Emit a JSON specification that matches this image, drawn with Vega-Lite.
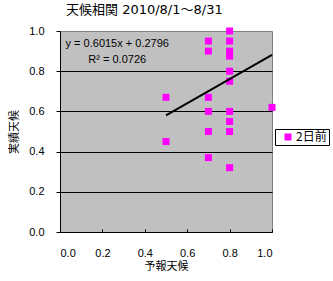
{
  "$schema": "https://vega.github.io/schema/vega-lite/v6.json",
  "width": 212,
  "height": 201,
  "autosize": {"type": "none"},
  "padding": {"left": 60, "top": 31, "right": 61, "bottom": 49},
  "background": "white",
  "config": {
    "view": {"fill": "#C0C0C0", "stroke": "#808080", "strokeWidth": 1},
    "font": "Liberation Sans"
  },
  "title": {
    "text": "天候相関 2010/8/1～8/31",
    "anchor": "start",
    "frame": "group",
    "dx": 6,
    "offset": 8,
    "fontSize": 13,
    "fontWeight": "normal",
    "font": "DejaVu Sans, Noto Sans CJK JP",
    "color": "black"
  },
  "datasets": {
    "points": [
      {"forecast": 0.5, "actual": 0.67, "series": "2日前"},
      {"forecast": 0.5, "actual": 0.45, "series": "2日前"},
      {"forecast": 0.7, "actual": 0.95, "series": "2日前"},
      {"forecast": 0.7, "actual": 0.9, "series": "2日前"},
      {"forecast": 0.7, "actual": 0.67, "series": "2日前"},
      {"forecast": 0.7, "actual": 0.6, "series": "2日前"},
      {"forecast": 0.7, "actual": 0.5, "series": "2日前"},
      {"forecast": 0.7, "actual": 0.37, "series": "2日前"},
      {"forecast": 0.8, "actual": 1.0, "series": "2日前"},
      {"forecast": 0.8, "actual": 0.95, "series": "2日前"},
      {"forecast": 0.8, "actual": 0.9, "series": "2日前"},
      {"forecast": 0.8, "actual": 0.875, "series": "2日前"},
      {"forecast": 0.8, "actual": 0.8, "series": "2日前"},
      {"forecast": 0.8, "actual": 0.75, "series": "2日前"},
      {"forecast": 0.8, "actual": 0.6, "series": "2日前"},
      {"forecast": 0.8, "actual": 0.55, "series": "2日前"},
      {"forecast": 0.8, "actual": 0.5, "series": "2日前"},
      {"forecast": 0.8, "actual": 0.32, "series": "2日前"},
      {"forecast": 1.0, "actual": 0.62, "series": "2日前"}
    ],
    "trend": [
      {"forecast": 0.5, "actual": 0.5804},
      {"forecast": 1.0, "actual": 0.8811}
    ],
    "eq": [
      {"forecast": 0.27, "actual": 0.933, "label": "y = 0.6015x + 0.2796"},
      {"forecast": 0.27, "actual": 0.857, "label": "R² = 0.0726"}
    ]
  },
  "layer": [
    {
      "data": {"name": "points"},
      "mark": {"type": "point", "shape": "square", "filled": true, "size": 49, "opacity": 1, "strokeWidth": 0},
      "encoding": {
        "x": {
          "field": "forecast", "type": "quantitative",
          "scale": {"domain": [0, 1], "nice": false, "zero": false},
          "axis": {
            "title": "予報天候",
            "titleFont": "Noto Sans CJK JP", "titleFontSize": 11, "titleFontWeight": "normal", "titleColor": "black",
            "titlePadding": 2,
            "values": [0, 0.2, 0.4, 0.6, 0.8, 1.0], "format": ".1f",
            "labelFont": "Liberation Sans", "labelFontSize": 11, "labelColor": "black",
            "labelPadding": 18,
            "grid": false,
            "domainColor": "black", "domainWidth": 1,
            "tickColor": "black", "tickSize": -3, "tickWidth": 1
          }
        },
        "y": {
          "field": "actual", "type": "quantitative",
          "scale": {"domain": [0, 1], "nice": false, "zero": false},
          "axis": {
            "title": "実績天候",
            "titleFont": "Noto Sans CJK JP", "titleFontSize": 11, "titleFontWeight": "normal", "titleColor": "black",
            "titlePadding": 9,
            "values": [0, 0.2, 0.4, 0.6, 0.8, 1.0], "format": ".1f",
            "labelFont": "Liberation Sans", "labelFontSize": 11, "labelColor": "black",
            "labelPadding": 12,
            "grid": true,
            "gridColor": {"condition": {"test": "datum.value >= 1 || datum.value <= 0", "value": "transparent"}, "value": "black"},
            "gridWidth": 1, "gridOpacity": 1,
            "domainColor": "black", "domainWidth": 1,
            "tickColor": "black", "tickSize": 4, "tickWidth": 1
          }
        },
        "color": {
          "field": "series", "type": "nominal",
          "scale": {"range": ["#FF00FF"]},
          "legend": {
            "title": null,
            "orient": "none", "legendX": 215, "legendY": 98,
            "strokeColor": "black", "fillColor": "white", "padding": 2,
            "symbolType": "square", "symbolSize": 49, "symbolStrokeWidth": 0, "symbolOffset": 5,
            "labelFont": "Noto Sans CJK JP", "labelFontSize": 12, "labelColor": "black", "labelOffset": 2
          }
        }
      }
    },
    {
      "data": {"name": "trend"},
      "mark": {"type": "line", "color": "black", "strokeWidth": 2},
      "encoding": {
        "x": {"field": "forecast", "type": "quantitative"},
        "y": {"field": "actual", "type": "quantitative"}
      }
    },
    {
      "data": {"name": "eq"},
      "mark": {"type": "text", "font": "Liberation Sans", "fontSize": 11, "color": "black", "align": "center", "baseline": "middle"},
      "encoding": {
        "x": {"field": "forecast", "type": "quantitative"},
        "y": {"field": "actual", "type": "quantitative"},
        "text": {"field": "label"}
      }
    }
  ]
}
